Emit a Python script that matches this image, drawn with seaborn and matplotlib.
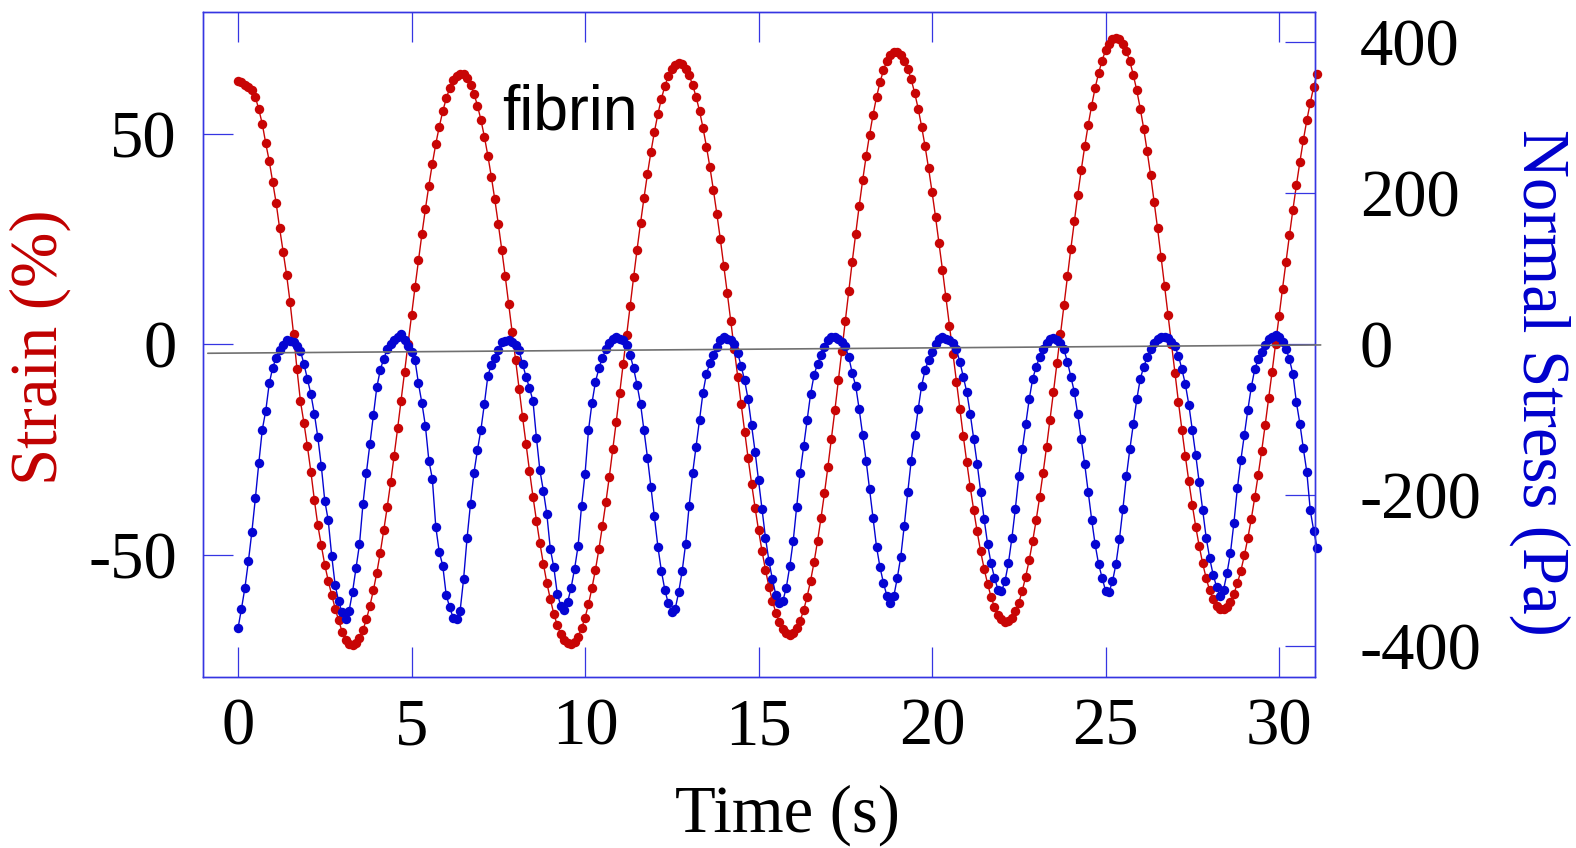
import numpy as np
import pandas as pd
import matplotlib
matplotlib.use("Agg")
import matplotlib.pyplot as plt
import seaborn as sns

# ---------------- data ----------------
sample_interval_s = 0.1  # sampling clock of the measurement, first sample at t = 0 s

strain_pct = [
    62.5, 62.3, 61.6, 61.2, 60.4, 58.7, 55.8, 52.3, 47.7, 43.5, 38.5, 33.5, 27.5, 22.0, 16.5, 10.0,
    2.5, -6.0, -13.6, -18.7, -24.3, -30.3, -37.0, -43.0, -47.8, -52.4, -56.2, -59.6, -62.8, -65.6,
    -68.3, -70.2, -71.3,
    -71.5, -70.9, -69.7, -67.9, -65.4, -62.2, -58.5, -54.3, -49.5, -44.2, -38.7, -32.8, -26.5, -20.0,
    -13.4, -6.6, 0.1, 6.9, 13.5, 19.9, 26.2, 32.1, 37.7, 42.9, 47.6, 51.7, 55.3, 58.4, 60.8, 62.7,
    63.8, 64.3,
    64.1, 63.2, 61.7, 59.5, 56.7, 53.3, 49.3, 44.8, 39.8, 34.4, 28.6, 22.5, 16.2, 9.6, 2.9, -3.8,
    -10.6, -17.3, -23.8, -30.1, -36.2, -41.9, -47.3, -52.2, -56.7, -60.6, -64.0, -66.8, -68.9, -70.3,
    -71.1,
    -71.3, -70.7, -69.5, -67.5, -65.0, -61.8, -57.9, -53.6, -48.7, -43.3, -37.6, -31.5, -25.0, -18.4,
    -11.6, -4.7, 2.2, 9.1, 15.9, 22.5, 28.8, 34.8, 40.5, 45.7, 50.5, 54.7, 58.3, 61.3, 63.7, 65.4,
    66.4, 66.8,
    66.5, 65.5, 63.9, 61.6, 58.8, 55.4, 51.4, 46.9, 42.0, 36.6, 30.9, 24.9, 18.6, 12.1, 5.6, -1.1,
    -7.8, -14.3, -20.8, -27.1, -33.1, -38.8, -44.2, -49.1, -53.6, -57.6, -61.0, -63.8, -66.1, -67.7,
    -68.7, -69.0,
    -68.6, -67.5, -65.7, -63.2, -60.0, -56.2, -51.8, -46.8, -41.3, -35.4, -29.1, -22.5, -15.7, -8.6,
    -1.5, 5.6, 12.7, 19.6, 26.3, 32.8, 38.9, 44.6, 49.8, 54.5, 58.7, 62.2, 65.1, 67.4, 68.7, 69.4,
    69.4, 68.8, 67.4, 65.5, 62.9, 59.7, 56.0, 51.7, 47.0, 41.8, 36.2, 30.3, 24.1, 17.7, 11.1, 4.4,
    -2.3, -8.9, -15.5, -21.8, -28.0, -33.9, -39.4, -44.5, -49.2, -53.3, -56.9, -60.0, -62.5, -64.3,
    -65.4, -66.0,
    -65.8, -65.0, -63.5, -61.4, -58.6, -55.2, -51.3, -46.8, -41.8, -36.4, -30.6, -24.4, -17.9, -11.3,
    -4.5, 2.4, 9.2, 16.1, 22.7, 29.2, 35.5, 41.4, 47.0, 52.1, 56.7, 60.9, 64.4, 67.4, 69.8, 71.4,
    72.5, 72.8,
    72.4, 71.4, 69.6, 67.2, 64.0, 60.3, 56.0, 51.2, 45.8, 40.1, 33.9, 27.5, 20.8, 13.9, 7.0, 0.0,
    -6.9, -13.7, -20.3, -26.6, -32.6, -38.2, -43.4, -48.0, -52.1, -55.6, -58.5, -60.6, -62.1, -62.9,
    -62.9, -62.4, -61.2, -59.3, -56.8, -53.8, -50.2, -46.1, -41.5, -36.4, -31.0, -25.3, -19.2, -12.9,
    -6.5, 0.1, 6.6, 13.2, 19.6, 25.9, 32.0, 37.8, 43.3, 48.5, 53.2, 57.4, 61.2, 64.3,
]

stress_pa = [
    -376, -350, -322, -287, -248, -204, -157, -113, -88, -52, -31,
    -18, -8, -1, 5, 4, 3, -2, -9, -26, -46,
    -66, -92, -123, -161, -207, -233, -280, -319, -340, -355,
    -363, -353, -328, -296, -265, -212, -170, -132, -94, -57,
    -34, -19, -7, 0, 6, 10, 14, 6, -3, -10,
    -21, -52, -78, -108, -154, -178, -242, -275, -293, -332,
    -348, -362, -364, -353, -311, -257, -211, -170, -140, -113,
    -79, -42, -27, -18, -8, 3, 4, 5, 3, -1,
    -8, -26, -43, -58, -75, -124, -167, -194, -225, -271,
    -295, -330, -346, -352, -341, -322, -297, -267, -214, -172,
    -114, -78, -50, -32, -18, -7, 2, 7, 9, 7,
    5, -1, -14, -32, -54, -79, -114, -150, -189, -228,
    -268, -300, -325, -343, -355, -350, -328, -300, -264, -214,
    -171, -136, -100, -64, -39, -25, -14, -4, 5, 9,
    7, 5, 0, -12, -29, -48, -73, -107, -142, -180,
    -218, -256, -287, -311, -332, -343, -340, -322, -294, -260,
    -215, -170, -135, -100, -66, -41, -26, -14, -4, 5,
    9, 9, 7, 3, -3, -17, -38, -55, -86, -120,
    -154, -192, -230, -268, -295, -316, -333, -343, -333, -309,
    -281, -240, -196, -154, -120, -86, -55, -34, -21, -10,
    0, 7, 9, 7, 6, 1, -7, -23, -43, -63,
    -92, -125, -158, -195, -231, -264, -290, -309, -325, -327,
    -314, -290, -257, -218, -175, -139, -106, -73, -46, -30,
    -17, -7, 2, 7, 8, 6, 1, -7, -23, -43,
    -63, -93, -126, -159, -195, -232, -265, -291, -309, -326,
    -328, -314, -291, -258, -218, -175, -139, -106, -73, -46,
    -30, -17, -7, 2, 7, 10, 10, 8, 3, -3,
    -15, -33, -53, -80, -113, -147, -183, -220, -256, -283,
    -305, -321, -333, -325, -303, -276, -236, -190, -153, -120,
    -87, -57, -33, -20, -10, -1, 7, 10, 12, 9,
    3, -6, -20, -40, -77, -105, -138, -169, -220, -247, -270,
]

time_ticks = [0, 5, 10, 15, 20, 25, 30]
strain_ticks = [-50, 0, 50]
stress_ticks = [-400, -200, 0, 200, 400]
baseline_time = [-0.87, 31.2]
baseline_stress = [-12, -1]
annotation_text = "fibrin"
annotation_pos = (7.6, 51.0)

# ---------------- build ----------------
time_s = np.round(np.arange(len(strain_pct)) * sample_interval_s, 1)
df = pd.DataFrame({"Time (s)": time_s, "Strain (%)": strain_pct, "Normal Stress (Pa)": stress_pa})

sns.set_style("white")
plt.rcParams["font.family"] = ["Liberation Serif", "DejaVu Serif"]
plt.rcParams["axes.unicode_minus"] = False

RED = "#c80505"
BLUE = "#0505d2"
SPINE = "#3535e2"
FS = 48

fig = plt.figure(figsize=(15.76, 8.48), dpi=100)
ax = fig.add_axes([0.1290, 0.2020, 0.7057, 0.7842])
ax2 = ax.twinx()

sns.lineplot(data=df, x="Time (s)", y="Strain (%)", ax=ax, color=RED, marker="o",
             markersize=6.8, markeredgewidth=0, linewidth=1.0, sort=False, estimator=None)
sns.lineplot(data=df, x="Time (s)", y="Normal Stress (Pa)", ax=ax2, color=BLUE, marker="o",
             markersize=6.8, markeredgewidth=0, linewidth=1.0, sort=False, estimator=None)
for ln in ax.lines + ax2.lines:
    ln.set_clip_on(False)

ax2.plot(baseline_time, baseline_stress, color="#707070", linewidth=1.2, zorder=6, clip_on=False)

ax.set_xlim(-1.0, 31.05)
ax.set_ylim(-79, 79)
ax2.set_ylim(-440, 440)

ax.set_xticks(time_ticks)
ax.set_yticks(strain_ticks)
ax2.set_yticks(stress_ticks)

for a in (ax, ax2):
    for sp in a.spines.values():
        sp.set_visible(True)
        sp.set_color(SPINE)
        sp.set_linewidth(1.0)

ax.tick_params(axis="x", which="both", direction="in", length=21.6, width=0.9, color=SPINE,
               labelsize=FS, labelcolor="black", pad=15, top=True, bottom=True)
ax.tick_params(axis="y", direction="in", length=21.6, width=0.9, color=SPINE,
               labelsize=FS, labelcolor="black", pad=19, left=True, right=False)
ax2.tick_params(axis="y", direction="in", length=21.6, width=0.9, color=SPINE,
                labelsize=FS, labelcolor="black", pad=32, right=True, left=False)

ax.set_xlabel("Time (s)", fontsize=FS, color="black")
ax.set_ylabel("Strain (%)", fontsize=FS, color="#c00000")
ax2.set_ylabel("Normal Stress (Pa)", fontsize=FS, color="#0000cc", rotation=-90)

ax.xaxis.set_label_coords(0.525, -0.208)
ax.xaxis.label.set_va("center")
ax.yaxis.set_label_coords(-0.1468, 0.496)
ax.yaxis.label.set_va("center")
ax.yaxis.label.set_ha("center")
ax2.yaxis.set_label_coords(1.2020, 0.4432)
ax2.yaxis.label.set_va("center")
ax2.yaxis.label.set_ha("center")

ax.text(annotation_pos[0], annotation_pos[1], annotation_text, fontsize=45,
        family=["Liberation Sans", "DejaVu Sans"], ha="left", va="baseline", color="black")

fig.savefig("out.png", dpi=100)
